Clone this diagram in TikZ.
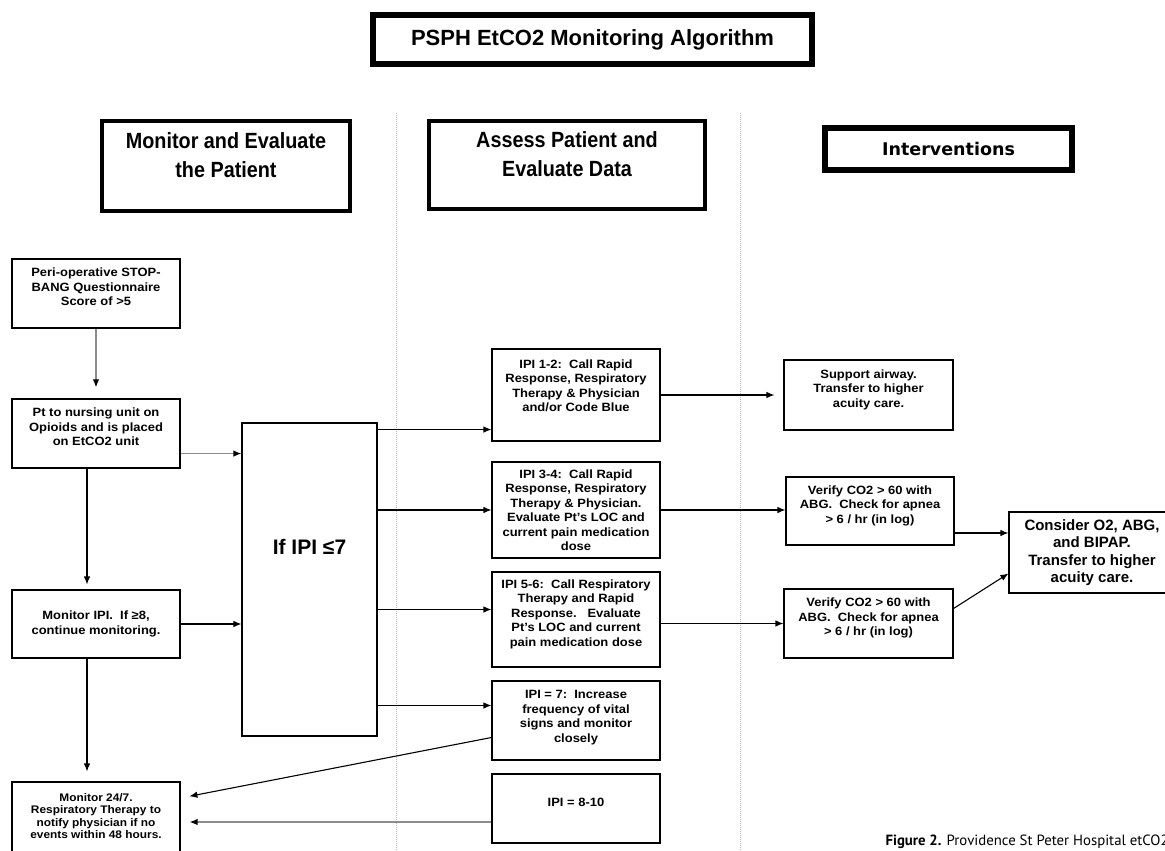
\documentclass[tikz,border=0pt]{standalone}
\usepackage{fontspec}
\setmainfont{Liberation Sans}
\newfontfamily\boxfont{Liberation Sans}[FakeStretch=1.08]
\newfontfamily\headfont{Liberation Sans}[FakeStretch=0.9]
\newfontfamily\intfont{DejaVu Sans}
\newfontfamily\capfont{PT Sans}
\usetikzlibrary{arrows.meta}
\definecolor{linegray}{rgb}{0.55,0.55,0.55}
\definecolor{sepgray}{rgb}{0.72,0.72,0.72}

\tikzset{
  stepbox/.style={draw, line width=1.1pt, align=center, inner sep=2pt,
    minimum width=168pt, text depth=13pt,
    font=\boxfont\bfseries\fontsize{12}{14.5}\selectfont},
  headbox/.style={draw, line width=4.5pt, align=center, text depth=22pt,
    font=\headfont\bfseries\fontsize{22}{29}\selectfont},
  arr/.style={-{Latex[length=8pt,width=6.5pt]}, line width=1.1pt},
  grayarr/.style={-{Latex[length=8pt,width=6.5pt,color=black]}, draw=linegray, line width=1.4pt},
  sepline/.style={draw=sepgray, line width=0.8pt, dash pattern=on 1pt off 1pt}
}

\begin{document}
\begin{tikzpicture}[x=1pt, y=-1pt]
  \useasboundingbox (0,0) rectangle (1165,851);
  \clip (0,0) rectangle (1165,851);

  % column separators
  \draw[sepline] (396,113) -- (396,851);
  \draw[sepline] (740,113) -- (740,851);

  % headings
  \node[draw, line width=6pt, minimum width=439pt, minimum height=49pt,
    font=\bfseries\fontsize{22}{26}\selectfont] (title) at (592.5,39.5) {PSPH EtCO2 Monitoring Algorithm};
  \node[headbox, minimum width=248pt, minimum height=90pt] (headA) at (226,166) {Monitor and Evaluate\\the Patient};
  \node[headbox, minimum width=276pt, minimum height=88pt] (headB) at (567,165) {Assess Patient and\\Evaluate Data};
  \node[draw, line width=6pt, minimum width=247pt, minimum height=42pt,
    font=\intfont\bfseries\fontsize{17.5}{21}\selectfont] (headC) at (948.5,149) {Interventions};

  % monitor and evaluate
  \node[stepbox, minimum height=69pt] (peri) at (96,293.5) {Peri-operative STOP-\\BANG Questionnaire\\Score of >5};
  \node[stepbox, minimum height=69pt] (pt) at (96,433.5) {Pt to nursing unit on\\Opioids and is placed\\on EtCO2 unit};
  \node[stepbox, minimum height=68pt, text depth=] (mon) at (96,624) {Monitor IPI.\ \ If ≥8,\\continue monitoring.};
  \node[stepbox, minimum height=76pt, text depth=8pt, font=\boxfont\bfseries\fontsize{11}{12.5}\selectfont] (watch) at (96,820) {Monitor 24/7.\\Respiratory Therapy to\\notify physician if no\\events within 48 hours.};
  \node[stepbox, minimum width=135pt, minimum height=313pt, text height=15pt, text depth=65pt,
    font=\bfseries\fontsize{21}{25}\selectfont] (ipi) at (309.5,579.5) {If IPI ≤7};

  % assess patient
  \node[stepbox, minimum height=92pt, text depth=19pt] (ipiA) at (576,395) {IPI 1-2:\ \ Call Rapid\\Response, Respiratory\\Therapy \& Physician\\and/or Code Blue};
  \node[stepbox, minimum height=96pt, text depth=] (ipiB) at (576,510) {IPI 3-4:\ \ Call Rapid\\Response, Respiratory\\Therapy \& Physician.\\Evaluate Pt’s LOC and\\current pain medication\\dose};
  \node[stepbox, minimum height=95pt] (ipiC) at (576,619.5) {IPI 5-6:\ \ Call Respiratory\\Therapy and Rapid\\Response.\ \ \ Evaluate\\Pt’s LOC and current\\pain medication dose};
  \node[stepbox, minimum height=79pt, text depth=8pt] (ipiD) at (576,720.5) {IPI = 7:\ \ Increase\\frequency of vital\\signs and monitor\\closely};
  \node[stepbox, minimum height=69pt] (ipiE) at (576,808.5) {IPI = 8-10};

  % interventions
  \node[stepbox, minimum width=169pt, minimum height=70pt] (airway) at (868.5,395) {Support airway.\\Transfer to higher\\acuity care.};
  \node[stepbox, minimum height=68pt] (verA) at (870,511) {Verify CO2 > 60 with\\ABG.\ \ Check for apnea\\> 6 / hr (in log)};
  \node[stepbox, minimum width=169pt, minimum height=69pt] (verB) at (868.5,623.5) {Verify CO2 > 60 with\\ABG.\ \ Check for apnea\\> 6 / hr (in log)};
  \node[stepbox, minimum width=166pt, minimum height=81pt, text depth=,
    font=\bfseries\fontsize{15}{17.5}\selectfont] (transfer) at (1092,552.5) {Consider O2, ABG,\\and BIPAP.\\Transfer to higher\\acuity care.};

  % connectors
  \draw[grayarr, shorten >=11pt] (peri) -- (pt);
  \path ([yshift=15pt]pt.south east) coordinate (ptout);
  \draw[grayarr] (ptout) -- (ptout -| ipi.west);
  \draw[arr, shorten >=5pt] ([xshift=-9pt]pt.south) -- ([xshift=-9pt]mon.north);
  \draw[arr] (mon.east) -- (mon.east -| ipi.west);
  \draw[arr, shorten >=10pt] ([xshift=-9pt]mon.south) -- ([xshift=-9pt]watch.north);

  \path ([yshift=12pt]ipiA.south west) coordinate (ainA);
  \draw[arr] (ainA -| ipi.east) -- (ainA);
  \draw[arr] (ipiB.west -| ipi.east) -- (ipiB.west);
  \path ([yshift=10pt]ipiC.west) coordinate (ainC);
  \draw[arr] (ainC -| ipi.east) -- (ainC);
  \path ([yshift=15pt]ipiD.west) coordinate (ainD);
  \draw[arr] (ainD -| ipi.east) -- (ainD);

  \draw[arr, shorten >=9pt] ([yshift=-17pt]ipiD.west) -- ([yshift=22pt]watch.east);
  \path ([yshift=-13.5pt]ipiE.west) coordinate (eout);
  \draw[grayarr, shorten >=9pt] (eout) -- (eout -| watch.east);

  \draw[arr, shorten >=9pt] (ipiA.east) -- (airway.west);
  \draw[arr] (ipiB.east) -- (ipiB.east -| verA.west);
  \draw[arr] (ipiC.east |- verB.west) -- (verB.west);
  \path ([yshift=-22pt]verA.east) coordinate (vout);
  \draw[arr] (vout) -- (vout -| transfer.west);
  \draw[arr] ([yshift=15pt]verB.east) -- ([yshift=-21pt]transfer.west);

  % caption
  \node[anchor=base west, font=\capfont\fontsize{14.8}{17}\selectfont] (caption) at (882,845) {\textbf{Figure 2.} Providence St Peter Hospital etCO2};
\end{tikzpicture}
\end{document}
